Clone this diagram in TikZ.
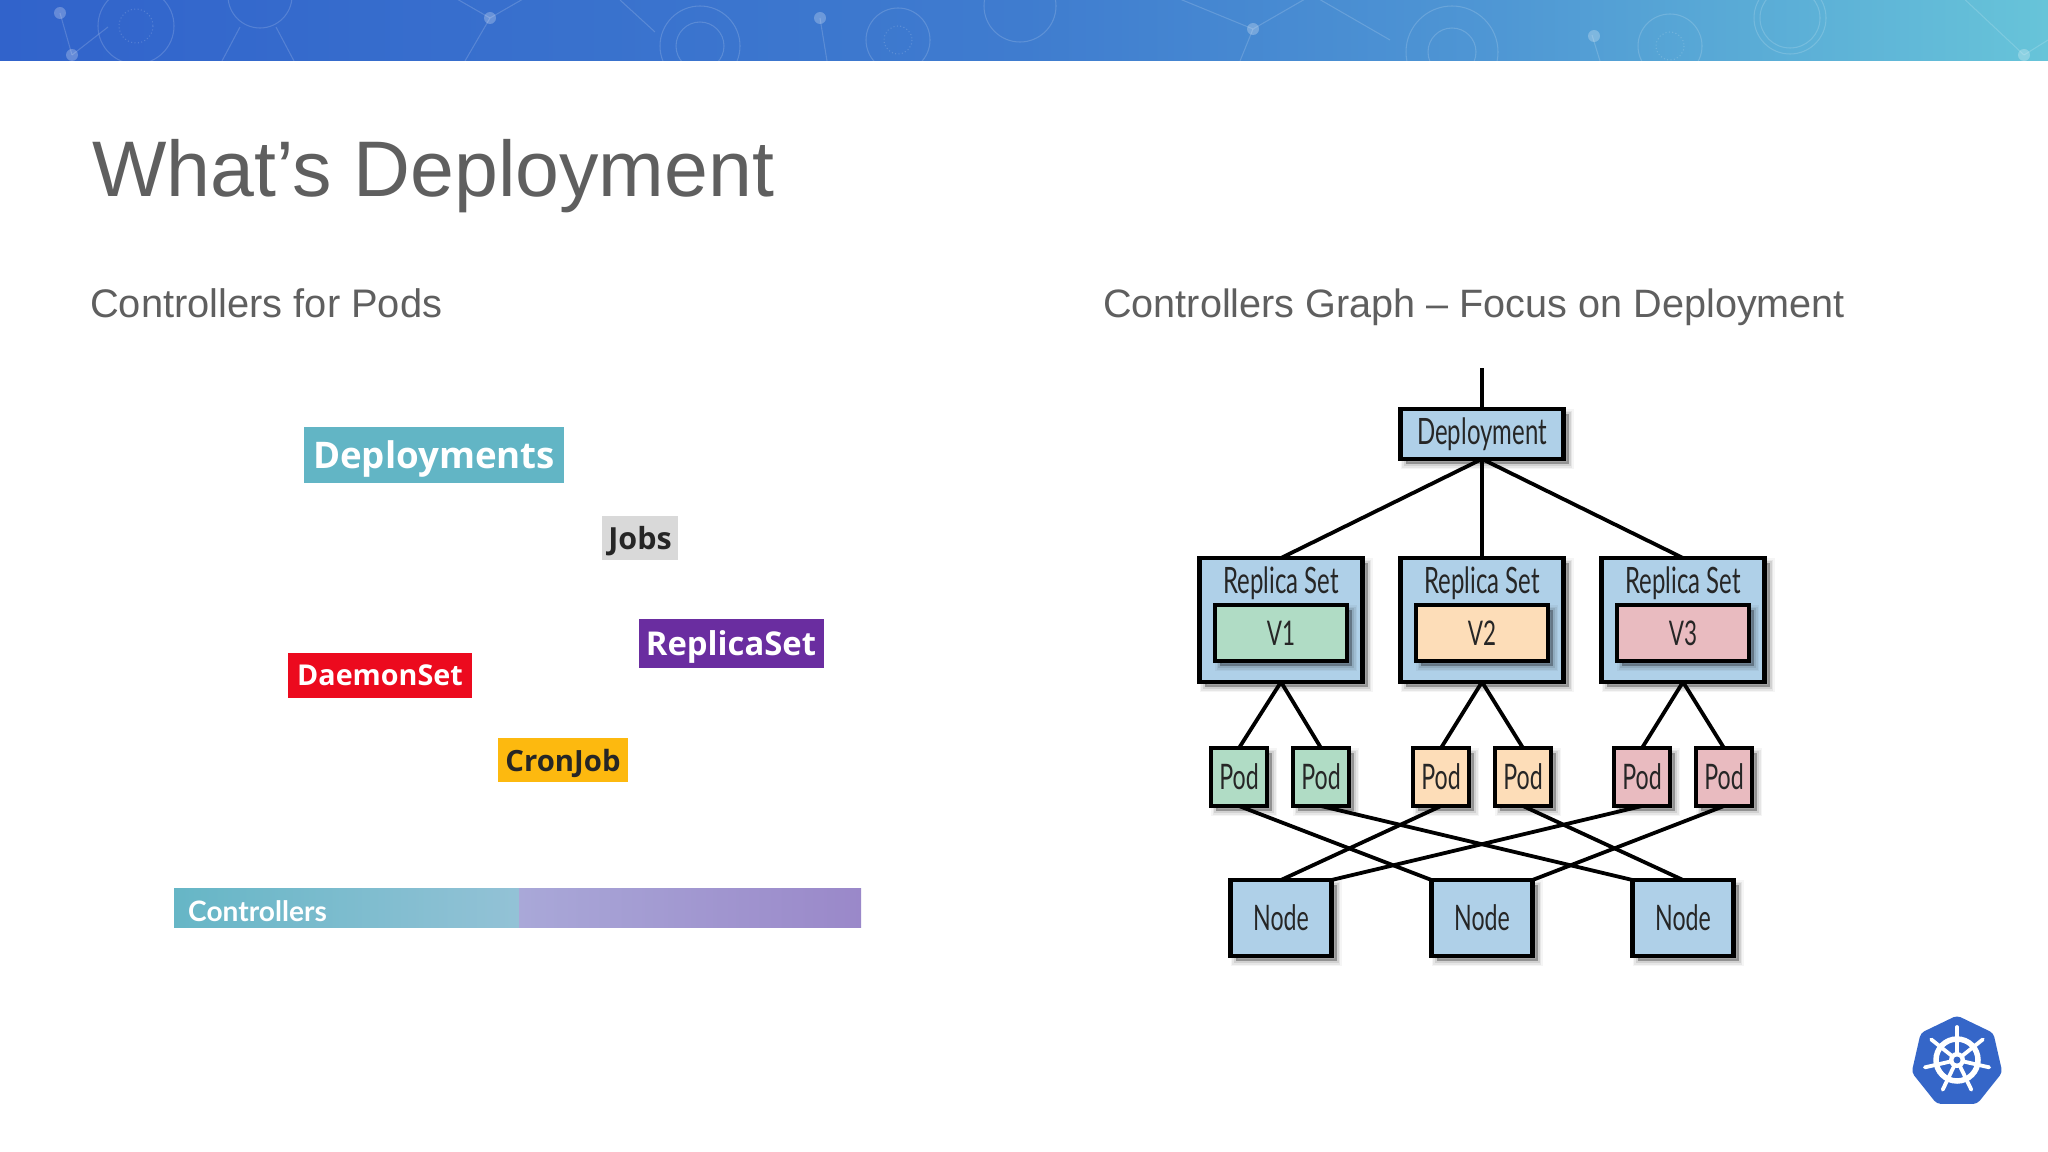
\documentclass[tikz,border=0pt]{standalone}
\usepackage{fontspec}
\usetikzlibrary{shapes.geometric,shadows}
\setmainfont{Liberation Sans}
\newfontfamily\cond[FakeStretch=0.66]{Lato}
\newfontfamily\heavy{Open Sans}
\newfontfamily\ctl{Lato}
\def\px{0.03cm}
\definecolor{gblue}{HTML}{AFD0E8}
\definecolor{ggreen}{HTML}{B0DCC5}
\definecolor{gorange}{HTML}{FDDDB8}
\definecolor{gpink}{HTML}{E9BBC0}
\definecolor{txt}{HTML}{5F5F5F}
\definecolor{kblue}{HTML}{3566C8}
\definecolor{hA}{HTML}{3163CB}
\definecolor{hB}{HTML}{3F7CCF}
\definecolor{hC}{HTML}{4F97D4}
\definecolor{hD}{HTML}{67C4D9}
\definecolor{tealtag}{HTML}{62B5C5}
\definecolor{purpletag}{HTML}{6A2DA0}
\definecolor{redtag}{HTML}{EC0A1E}
\definecolor{yellowtag}{HTML}{FDB90F}
\definecolor{barA}{HTML}{66B6C6}
\definecolor{barB}{HTML}{93C2D6}
\definecolor{barC}{HTML}{A9A8D8}
\definecolor{barD}{HTML}{9A88C9}
\tikzset{
  softshadow/.style={
    general shadow={fill=black,draw=black,line width=10*\px,opacity=.04,shadow xshift=5*\px,shadow yshift=-5*\px},
    general shadow={fill=black,draw=black,line width=7*\px,opacity=.06,shadow xshift=5*\px,shadow yshift=-5*\px},
    general shadow={fill=black,draw=black,line width=4*\px,opacity=.09,shadow xshift=5*\px,shadow yshift=-5*\px},
    general shadow={fill=black,opacity=.14,shadow xshift=5*\px,shadow yshift=-5*\px}},
  gbox/.style={rectangle,softshadow,draw=black,line width=4.2*\px,outer sep=0pt,inner sep=0pt,text=black!85,
     font=\cond\fontsize{#1}{#1}\selectfont},
  depbox/.style={gbox=31,fill=gblue,minimum width=163*\px,minimum height=50*\px},
  rsbox/.style={gbox=31,fill=gblue,minimum width=163*\px,minimum height=124*\px},
  verbox/.style={gbox=29,fill=#1,minimum width=132*\px,minimum height=56*\px},
  podbox/.style={gbox=30,fill=#1,minimum width=56*\px,minimum height=58*\px},
  nodebox/.style={gbox=30,fill=gblue,minimum width=101*\px,minimum height=76*\px},
  rstext/.style={text=black!85,font=\cond\fontsize{31}{31}\selectfont,inner sep=0pt},
  conn/.style={line width=3.8*\px,black},
  tag/.style={inner sep=0pt,text depth=0pt,font=\heavy\bfseries\fontsize{#1}{#1}\selectfont,text=white},
  deco/.style={white,opacity=.16,line width=.9},
  dot/.style={fill=white,opacity=.25},
}
\begin{document}
\begin{tikzpicture}[x=\px,y=-\px]
\useasboundingbox (0,0) rectangle (2048,1152);
\fill[white] (0,0) rectangle (2048,1152);
% header band
\shade[left color=hA,right color=hB] (0,0) rectangle (1024,61);
\shade[left color=hB,right color=hC] (1024,0) rectangle (1500,61);
\shade[left color=hC,right color=hD] (1500,0) rectangle (2048,61);
\fill[white,opacity=.3] (0,61) rectangle (2048,62);
\begin{scope}
\clip (0,0) rectangle (2048,61);
\foreach \cx/\r in {136/38,260/32,700/40,700/24,898/32,1020/36,1452/46,1452/24,1670/32,1790/36,1790/30}{
  \draw[deco] (\cx,{\cx==700 ? 46 : (\cx==1452 ? 52 : (\cx==136 ? 26 : (\cx==260 ? -4 : (\cx==898 ? 40 : (\cx==1020 ? 6 : (\cx==1670 ? 46 : 18))))))}) circle (\r);
}
\draw[deco,dotted] (136,26) circle (17);
\draw[deco,dotted] (898,40) circle (14);
\draw[deco,dotted] (1670,46) circle (14);
\foreach \a/\b/\c/\d in {60/13/72/55,72/55/108/27,240/27/222/61,276/27/294/61,490/18/465/61,490/18/450/-5,490/18/530/-5,620/0/655/32,820/18/827/61,1253/29/1170/-5,1253/29/1240/61,1253/29/1312/-5,1312/-5/1390/40,1592/35/1600/61,2024/55/1960/-5,2024/55/2048/40}{
  \draw[deco] (\a,\b) -- (\c,\d);
}
\foreach \x/\y in {60/13,72/55,490/18,820/18,1253/29,1594/36,2024/55}{
  \fill[dot] (\x,\y) circle (6);
}
\end{scope}
% titles
\node[anchor=base west,inner sep=0pt,text=txt,font=\fontsize{67.3}{67}\selectfont] (title) at (92,196) {What’s Deployment};
\node[anchor=base west,inner sep=0pt,text=txt,font=\fontsize{34}{34}\selectfont] (subl) at (90,317) {Controllers for Pods};
\node[anchor=base west,inner sep=0pt,text=txt,font=\fontsize{33.8}{34}\selectfont] (subr) at (1103,317) {Controllers Graph – Focus on Deployment};
% left tags
\node[tag=31.3,fill=tealtag,minimum width=260*\px,minimum height=56*\px] (t1) at (434,455) {Deployments};
\node[tag=26,fill=black!15,text=black!85,minimum width=76*\px,minimum height=44*\px] (t2) at (640,538) {Jobs};
\node[tag=28,fill=purpletag,minimum width=185*\px,minimum height=49*\px] (t3) at (731,643) {ReplicaSet};
\node[tag=24.5,fill=redtag,minimum width=184*\px,minimum height=45*\px] (t4) at (380,675) {DaemonSet};
\node[tag=25,fill=yellowtag,text=black!85,minimum width=130*\px,minimum height=44*\px] (t5) at (563,760) {CronJob};
% controllers bar
\shade[left color=barA,right color=barB] (174,888) rectangle (519,927);
\shade[left color=barC,right color=barD] (519,888) rectangle (861,927);
\node[anchor=base west,inner sep=0pt,text=white,font=\ctl\bfseries\fontsize{24}{24}\selectfont] (ctl) at (188,921) {Controllers};
% graph
\coordinate (top) at (1482,368);
\node[depbox] (dep) at (1482,434) {Deployment};
\foreach \n/\x in {1/1281,2/1482,3/1683}{
  \node[rsbox] (rs\n) at (\x,620) {};
  \node[rstext] (rst\n) at (\x,583) {Replica Set};
}
\node[verbox=ggreen] (v1) at (1281,633) {V1};
\node[verbox=gorange] (v2) at (1482,633) {V2};
\node[verbox=gpink] (v3) at (1683,633) {V3};
\node[podbox=ggreen] (p1) at (1239,777) {Pod};
\node[podbox=ggreen] (p2) at (1321,777) {Pod};
\node[podbox=gorange] (p3) at (1441,777) {Pod};
\node[podbox=gorange] (p4) at (1523,777) {Pod};
\node[podbox=gpink] (p5) at (1642,777) {Pod};
\node[podbox=gpink] (p6) at (1724,777) {Pod};
\node[nodebox] (n1) at (1281,918) {Node};
\node[nodebox] (n2) at (1482,918) {Node};
\node[nodebox] (n3) at (1683,918) {Node};
\draw[conn] (top) -- (dep.north);
\draw[conn] (dep.south) -- (rs1.north);
\draw[conn] (dep.south) -- (rs2.north);
\draw[conn] (dep.south) -- (rs3.north);
\draw[conn] (rs1.south) -- (p1.north);
\draw[conn] (rs1.south) -- (p2.north);
\draw[conn] (rs2.south) -- (p3.north);
\draw[conn] (rs2.south) -- (p4.north);
\draw[conn] (rs3.south) -- (p5.north);
\draw[conn] (rs3.south) -- (p6.north);
\draw[conn] (p1.south) -- (n2.north west);
\draw[conn] (p2.south) -- (n3.north west);
\draw[conn] (p3.south) -- (n1.north);
\draw[conn] (p4.south) -- (n3.north);
\draw[conn] (p5.south) -- (n1.north east);
\draw[conn] (p6.south) -- (n2.north east);
% logo
\node[regular polygon,regular polygon sides=7,fill=kblue,minimum size=93*\px,rounded corners=4*\px,inner sep=0pt] (k8s) at (1957,1062) {};
\draw[white,line width=5.5*\px] (1957,1060) circle (21);
\foreach \i in {0,...,6}{
  \draw[white,line width=3.8*\px,line cap=round] (1957,1060) -- ++({-90+\i*360/7}:33);
}
\fill[white] (1957,1060) circle (8);
\fill[kblue] (1957,1060) circle (3.5);
\end{tikzpicture}
\end{document}
